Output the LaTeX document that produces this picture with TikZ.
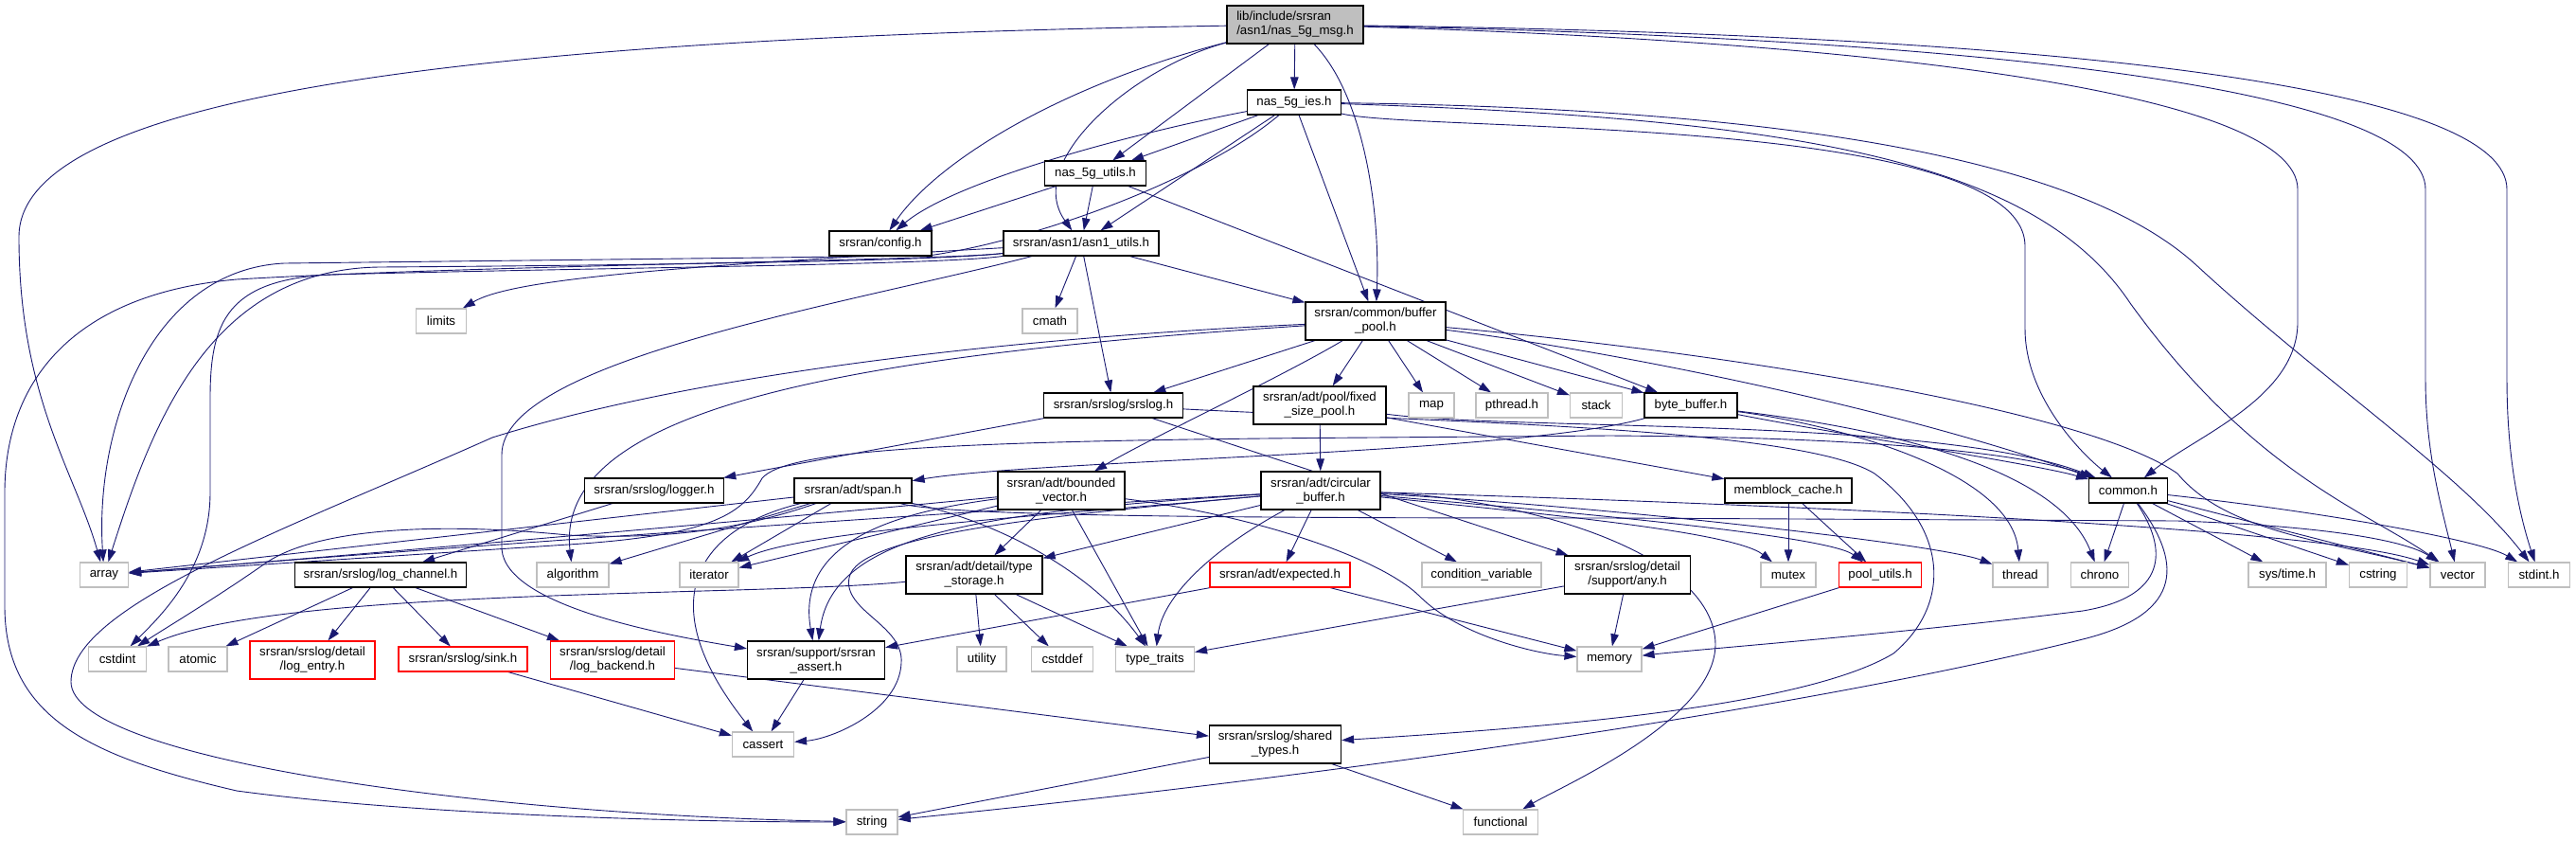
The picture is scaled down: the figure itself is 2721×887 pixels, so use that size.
\documentclass[tikz,border=0pt]{standalone}
\usepackage{fontspec}
\setmainfont{Liberation Sans}
\usetikzlibrary{arrows.meta}
\definecolor{edgeblue}{HTML}{191970}
\definecolor{sysgray}{HTML}{BFBFBF}
\pgfdeclarelayer{bg}
\pgfsetlayers{bg,main}

\begin{document}
\begin{tikzpicture}[x=1pt, y=-1pt,
    every node/.style={font=\fontsize{13.3}{15}\selectfont, inner sep=0pt, minimum height=26},
    doc/.style={draw=black, line width=1.2pt, fill=white},
    sys/.style={draw=sysgray, line width=1.2pt, fill=white},
    undoc/.style={draw=red, line width=1.2pt, fill=white},
    two/.style={minimum height=40, align=center},
    dep/.style={draw=edgeblue, line width=0.9pt, -{Triangle[length=13pt,width=8.5pt]}}]
    \useasboundingbox (0,0) rectangle (2721,887);

    % TOP: the file and its own headers
        \node[doc, two, align=left, fill=sysgray, minimum width=144] (main) at (1368,26) {lib/include/srsran\\/asn1/nas\_5g\_msg.h};
        \node[doc, minimum width=99] (ies) at (1367,108) {nas\_5g\_ies.h};
        \node[doc, minimum width=107] (utils) at (1157,183) {nas\_5g\_utils.h};
        \node[doc, minimum width=108] (config) at (930,257) {srsran/config.h};
        \node[doc, minimum width=164] (asn1) at (1142,257) {srsran/asn1/asn1\_utils.h};

    % buffer pool row
        \node[sys, minimum width=53] (limits) at (466,339) {limits};
        \node[sys, minimum width=58] (cmath) at (1109,339) {cmath};
        \node[doc, two, minimum width=148] (bpool) at (1453,339) {srsran/common/buffer\\\_pool.h};

        \node[doc, minimum width=147] (srslog) at (1176,428) {srsran/srslog/srslog.h};
        \node[doc, two, minimum width=140] (fpool) at (1394,428) {srsran/adt/pool/fixed\\\_size\_pool.h};
        \node[sys, minimum width=48] (map) at (1512,428) {map};
        \node[sys, minimum width=76] (pthread) at (1597,428) {pthread.h};
        \node[sys, minimum width=55] (stack) at (1686,428) {stack};
        \node[doc, minimum width=98] (bytebuf) at (1786,428) {byte\_buffer.h};

    % adt row
        \node[doc, minimum width=147] (logger) at (691,518) {srsran/srslog/logger.h};
        \node[doc, minimum width=124] (span) at (901,518) {srsran/adt/span.h};
        \node[doc, two, minimum width=134] (bvec) at (1121,518) {srsran/adt/bounded\\\_vector.h};
        \node[doc, two, minimum width=126] (cbuf) at (1395,518) {srsran/adt/circular\\\_buffer.h};
        \node[doc, minimum width=134] (memblock) at (1889,518) {memblock\_cache.h};
        \node[doc, minimum width=83] (common) at (2248,518) {common.h};

    % leaves, first row
        \node[sys, minimum width=51] (array) at (110,607) {array};
        \node[doc, minimum width=181] (logch) at (402,607) {srsran/srslog/log\_channel.h};
        \node[sys, minimum width=76] (algorithm) at (605,607) {algorithm};
        \node[sys, minimum width=62] (iterator) at (749,607) {iterator};
        \node[doc, two, minimum width=144] (tstorage) at (1029,607) {srsran/adt/detail/type\\\_storage.h};
        \node[undoc, minimum width=148] (expected) at (1352,607) {srsran/adt/expected.h};
        \node[sys, minimum width=126] (condvar) at (1565,607) {condition\_variable};
        \node[doc, two, minimum width=133] (any) at (1719,607) {srsran/srslog/detail\\/support/any.h};
        \node[sys, minimum width=58] (mutex) at (1889,607) {mutex};
        \node[undoc, minimum width=87] (poolutils) at (1986,607) {pool\_utils.h};
        \node[sys, minimum width=58] (thread) at (2134,607) {thread};
        \node[sys, minimum width=61] (chrono) at (2218,607) {chrono};
        \node[sys, minimum width=82] (systime) at (2416,607) {sys/time.h};
        \node[sys, minimum width=61] (cstring) at (2512,607) {cstring};
        \node[sys, minimum width=58] (vector) at (2596,607) {vector};
        \node[sys, minimum width=65] (stdint) at (2682,607) {stdint.h};

    % leaves, second row
        \node[sys, minimum width=61] (cstdint) at (124,696) {cstdint};
        \node[sys, minimum width=62] (atomic) at (209,696) {atomic};
        \node[undoc, two, minimum width=132] (logentry) at (330,697) {srsran/srslog/detail\\/log\_entry.h};
        \node[undoc, minimum width=136] (sink) at (489,696) {srsran/srslog/sink.h};
        \node[undoc, two, minimum width=131] (logbackend) at (647,697) {srsran/srslog/detail\\/log\_backend.h};
        \node[doc, two, minimum width=145] (assert) at (862,697) {srsran/support/srsran\\\_assert.h};
        \node[sys, minimum width=52] (utility) at (1037,696) {utility};
        \node[sys, minimum width=65] (cstddef) at (1122,696) {cstddef};
        \node[sys, minimum width=83] (typetraits) at (1220,696) {type\_traits};
        \node[sys, minimum width=68] (memory) at (1700,696) {memory};

    % bottom
        \node[sys, minimum width=65] (cassert) at (806,786) {cassert};
        \node[doc, two, minimum width=139] (sharedtypes) at (1347,786) {srsran/srslog/shared\\\_types.h};
        \node[sys, minimum width=54] (string) at (921,868) {string};
        \node[sys, minimum width=79] (functional) at (1585,868) {functional};

    \begin{pgfonlayer}{bg}
    % Straight includes
        \foreach \a/\b in {main/ies, main/utils, ies/utils, ies/asn1, ies/bpool, utils/config, utils/asn1,
            utils/bytebuf, asn1/bpool, asn1/cmath, asn1/srslog, bpool/fpool, bpool/map, bpool/pthread,
            bpool/stack, bpool/bytebuf, bpool/srslog, srslog/logger, srslog/any, fpool/cbuf, fpool/memblock,
            cbuf/expected, cbuf/condvar, cbuf/tstorage, bvec/tstorage, bvec/typetraits, bvec/iterator,
            span/array, span/algorithm, span/iterator, tstorage/utility, tstorage/cstddef, tstorage/typetraits,
            expected/assert, expected/memory, memblock/mutex, memblock/poolutils, any/memory, any/typetraits,
            poolutils/memory, common/chrono, common/systime, common/cstring, common/vector, logger/logch,
            logch/atomic, logch/logentry, logch/sink, logch/logbackend, sink/cassert, logbackend/sharedtypes,
            assert/cassert, sharedtypes/string, sharedtypes/functional}
            \draw[dep] (\a) -- (\b);

    % Curved includes of the file
        \draw[dep] (main) .. controls (1120,90) and (990,170) .. (config);
        \draw[dep] (main) .. controls (1200,70) and (1080,170) .. (asn1);
        \draw[dep] (main) .. controls (1440,100) and (1458,220) .. (bpool);
        \draw[dep] (main) .. controls (500,40) and (20,100) .. (20,250) .. controls (20,420) and (80,500) .. (array);
        \draw[dep] (main) .. controls (2000,45) and (2427,100) .. (2427,200) -- (2427,340) .. controls (2427,420) and (2320,460) .. (common);
        \draw[dep] (main) .. controls (2150,42) and (2562,100) .. (2562,200) -- (2562,400) .. controls (2562,480) and (2580,540) .. (vector);
        \draw[dep] (main) .. controls (2250,38) and (2648,100) .. (2648,200) -- (2648,400) .. controls (2648,480) and (2660,540) .. (stdint);

    % nas_5g_ies.h
        \draw[dep] (ies) .. controls (1200,140) and (1010,190) .. (config);
        \draw[dep] (ies) .. controls (1270,190) and (1090,255) .. (980,270) -- (300,278) .. controls (160,285) and (100,450) .. (array);
        \draw[dep] (ies) .. controls (1500,140) and (2139,120) .. (2139,260) -- (2139,347) .. controls (2139,420) and (2200,480) .. (common);
        \draw[dep] (ies) .. controls (1900,125) and (2150,170) .. (2250,320) .. controls (2380,500) and (2500,540) .. (vector);
        \draw[dep] (ies) .. controls (1900,115) and (2200,170) .. (2320,280) .. controls (2450,400) and (2600,500) .. (stdint);

    % asn1_utils.h
        \draw[dep] (asn1) .. controls (700,282) and (540,295) .. (limits);
        \draw[dep] (asn1) .. controls (1000,275) and (700,280) .. (400,282) .. controls (220,285) and (160,450) .. (array);
        \draw[dep] (asn1) .. controls (1000,280) and (600,283) .. (350,290) .. controls (240,295) and (222,340) .. (222,420) -- (222,520) .. controls (222,600) and (170,650) .. (cstdint);
        \draw[dep] (asn1) .. controls (1000,275) and (500,280) .. (250,295) .. controls (80,310) and (5,400) .. (5,520) -- (5,640) .. controls (5,760) and (100,800) .. (250,835) .. controls (450,862) and (750,868) .. (string);
        \draw[dep] (asn1) .. controls (900,320) and (530,380) .. (530,480) -- (530,580) .. controls (535,640) and (700,670) .. (assert);

    % buffer_pool.h
        \draw[dep] (bpool) .. controls (1350,400) and (1220,460) .. (bvec);
        \draw[dep] (bpool) .. controls (900,375) and (585,430) .. (algorithm);
        \draw[dep] (bpool) .. controls (1100,355) and (750,390) .. (520,462) .. controls (300,560) and (75,640) .. (75,720) .. controls (75,800) and (500,860) .. (string);
        \draw[dep] (bpool) .. controls (1700,370) and (2000,430) .. (common);
        \draw[dep] (bpool) .. controls (1800,370) and (2200,430) .. (2300,500) .. controls (2350,560) and (2450,570) .. (vector);

    % srslog, pool, byte_buffer
        \draw[dep] (srslog) .. controls (1500,445) and (1900,450) .. (1980,500) .. controls (2060,560) and (2060,640) .. (2000,690) .. controls (1900,750) and (1600,770) .. (sharedtypes);
        \draw[dep] (fpool) .. controls (1600,455) and (2050,440) .. (common);
        \draw[dep] (bytebuf) .. controls (1600,480) and (1100,485) .. (span);
        \draw[dep] (bytebuf) .. controls (1950,460) and (2150,490) .. (common);
        \draw[dep] (bytebuf) .. controls (2050,460) and (2180,510) .. (chrono);
        \draw[dep] (bytebuf) .. controls (1950,450) and (2125,500) .. (thread);

    % circular_buffer.h
        \draw[dep] (cbuf) .. controls (1280,580) and (1228,630) .. (typetraits);
        \draw[dep] (cbuf) .. controls (1050,540) and (880,560) .. (assert);
        \draw[dep] (cbuf) .. controls (1100,545) and (850,560) .. (iterator);
        \draw[dep] (cbuf) .. controls (1100,535) and (500,575) .. (array);
        \draw[dep] (cbuf) .. controls (1600,540) and (1830,560) .. (mutex);
        \draw[dep] (cbuf) .. controls (1650,540) and (1930,565) .. (poolutils);
        \draw[dep] (cbuf) .. controls (1700,535) and (2050,575) .. (thread);
        \draw[dep] (cbuf) .. controls (1800,530) and (2450,555) .. (vector);
        \draw[dep] (cbuf) .. controls (1100,545) and (905,565) .. (897,610) .. controls (890,645) and (955,660) .. (952,700) .. controls (950,750) and (880,780) .. (cassert);
        \draw[dep] (cbuf) .. controls (1600,525) and (1810,580) .. (1812,680) .. controls (1812,760) and (1650,830) .. (functional);

    % bounded_vector.h and span.h
        \draw[dep] (bvec) .. controls (950,540) and (840,570) .. (assert);
        \draw[dep] (bvec) .. controls (900,540) and (450,580) .. (array);
        \draw[dep] (bvec) .. controls (1330,545) and (1460,590) .. (1500,630) .. controls (1540,670) and (1620,690) .. (memory);
        \draw[dep] (span) .. controls (780,560) and (700,570) .. (600,565) .. controls (450,550) and (330,560) .. (280,595) .. controls (230,630) and (180,660) .. (cstdint);
        \draw[dep] (span) .. controls (730,560) and (690,640) .. (cassert);
        \draw[dep] (span) .. controls (1050,550) and (1150,600) .. (typetraits);
        \draw[dep] (span) .. controls (1000,545) and (1300,547) .. (1700,547) -- (2300,550) .. controls (2450,555) and (2540,570) .. (vector);
        \draw[dep] (tstorage) .. controls (800,630) and (300,620) .. (cstdint);

    % common.h
        \draw[dep] (common) .. controls (2150,480) and (2000,462) .. (1700,460) -- (1450,462) .. controls (1000,465) and (830,475) .. (805,505) .. controls (785,540) and (760,565) .. (600,575) -- (array);
        \draw[dep] (common) .. controls (2450,540) and (2620,570) .. (stdint);
        \draw[dep] (common) .. controls (2290,580) and (2290,630) .. (2200,645) .. controls (2000,670) and (1800,685) .. (memory);
        \draw[dep] (common) .. controls (2310,600) and (2300,650) .. (2200,675) .. controls (1900,750) and (1400,820) .. (string);
    \end{pgfonlayer}
\end{tikzpicture}
\end{document}
